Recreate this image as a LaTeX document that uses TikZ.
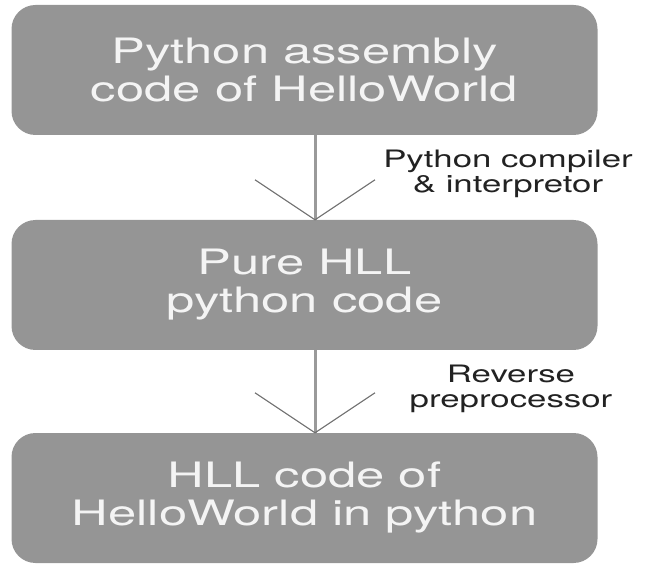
\documentclass[tikz,border=0pt]{standalone}
\usepackage{fontspec}
\setmainfont{TeX Gyre Heros}
\usepackage{graphicx}
\usetikzlibrary{calc}

\definecolor{boxgray}{HTML}{959595}
\definecolor{boxtext}{HTML}{F4F4F4}
\definecolor{notetext}{HTML}{222222}
\definecolor{linegray}{HTML}{9A9A9A}
\definecolor{barbgray}{HTML}{707070}

% stretched sans lettering
\newcommand{\widetext}[1]{\scalebox{1.45}[1]{#1}}

\begin{document}
\begin{tikzpicture}[x=1pt, y=-1pt,
  stage/.style={rectangle, rounded corners=24pt, fill=boxgray, text=boxtext,
    minimum width=586pt, minimum height=130pt, align=center, inner sep=0pt,
    font=\fontsize{35}{38}\selectfont},
  note/.style={align=center, inner sep=0pt, text=notetext,
    font=\fontsize{24}{25}\selectfont},
  flow/.style={draw=linegray, line width=3pt},
  barb/.style={draw=barbgray, line width=1.1pt}]
  \useasboundingbox (0,0) rectangle (646,564);

  % the three stages
  \node[stage] (asm)  at (304.5,70)  {\widetext{Python assembly}\\\widetext{code of HelloWorld}};
  \node[stage] (pure) at (304.5,285) {\widetext{Pure HLL}\\\widetext{python code}};
  \node[stage] (hll)  at (304.5,498) {\widetext{HLL code of}\\\widetext{HelloWorld in python}};

  % vertical axis of the connectors
  \coordinate (axis) at (315,0);

  % connector 1
  \draw[flow] (asm.south -| axis) -- (pure.north -| axis);
  \draw[barb] ($(pure.north -| axis)+(-60,-40)$) -- (pure.north -| axis) -- ++(60,-40);
  \node[note] (step1) at (508,174) {\widetext{Python compiler}\\\widetext{\& interpretor}};

  % connector 2
  \draw[flow] (pure.south -| axis) -- (hll.north -| axis);
  \draw[barb] ($(hll.north -| axis)+(-60,-40)$) -- (hll.north -| axis) -- ++(60,-40);
  \node[note] (step2) at (511,389) {\widetext{Reverse}\\\widetext{preprocessor}};
\end{tikzpicture}
\end{document}
